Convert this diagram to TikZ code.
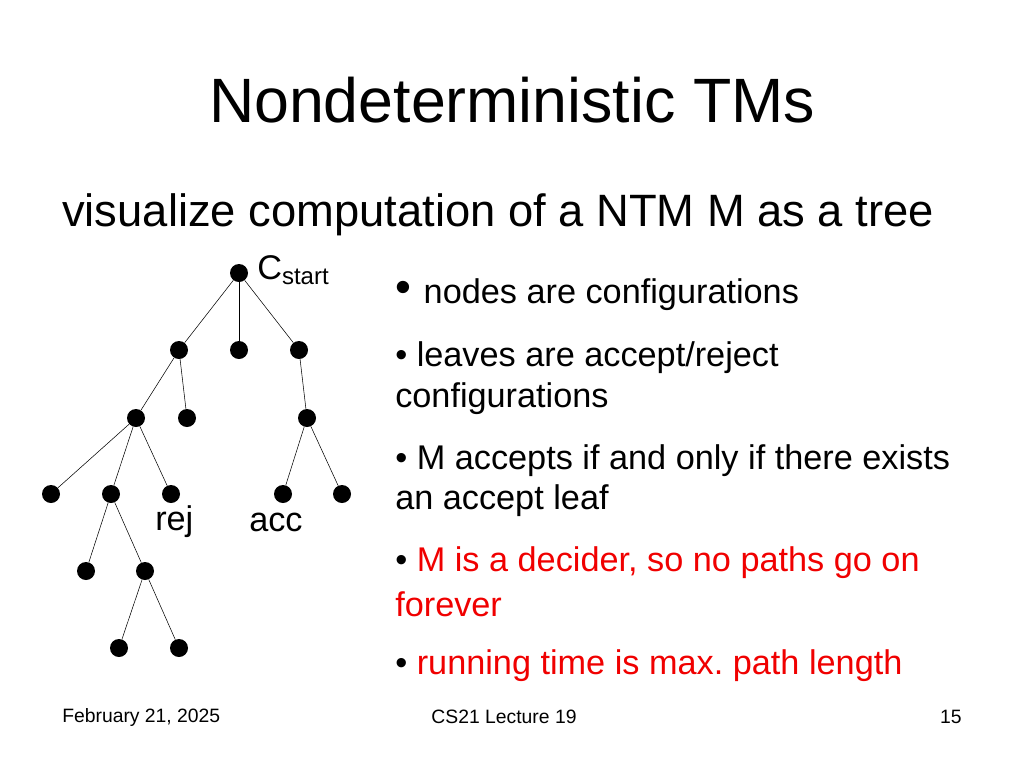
\documentclass[tikz,border=0pt]{standalone}
\usepackage{fontspec}
\setmainfont{Liberation Sans}
\frenchspacing
\definecolor{hot}{RGB}{240,0,0}
\tikzset{
    dot/.style={circle, fill=black, inner sep=0pt, minimum size=13.5pt},
    item/.style={anchor=west, inner sep=0pt, font=\fontsize{25.7}{30}\selectfont},
    foot/.style={inner sep=0pt, font=\fontsize{14.5}{17}\selectfont},
}
\begin{document}
\begin{tikzpicture}[x=0.75pt, y=-0.75pt]
    \useasboundingbox (0,0) rectangle (1024,768);
    % title and heading
    \node (title) at (512,100) {\fontsize{47}{54}\selectfont Nondeterministic TMs};
    \node[anchor=west, inner sep=0pt] (head) at (62,215)
        {\fontsize{34}{40}\selectfont visualize computation of a NTM M as a tree};
    % tree
    \foreach \name/\x/\y in {r/239/273, a/179/350, b/239/350, c/299/350,
        aa/136/418, ab/187/418, ca/307/418,
        aaa/51/494, aab/111/494, aac/171/494, caa/283/494, cab/342/494,
        d1/86/571, d2/145/571, e1/119/648, e2/179/648}
        \node[dot] (\name) at (\x,\y) {};
    \foreach \u/\v in {r/a, r/b, r/c, a/aa, a/ab, c/ca, aa/aaa, aa/aab, aa/aac,
        ca/caa, ca/cab, aab/d1, aab/d2, d2/e1, d2/e2}
        \draw (\u) -- (\v);
    \node[item, anchor=south west] (cstart) at (257,285) {C\textsubscript{start}};
    \node[item] (rej) at (155,522) {rej};
    \node[item] (acc) at (249,522) {acc};
    % bullets
    \node[item] (b1) at (395,295) {\fontsize{34}{34}\selectfont\raisebox{1pt}{\textbullet}\ \fontsize{25.7}{30}\selectfont nodes are configurations};
    \node[item] (b2) at (395,358) {\textbullet\ leaves are accept/reject};
    \node[item] (b2b) at (395,399) {configurations};
    \node[item] (b3) at (395,461) {\textbullet\ M accepts if and only if there exists};
    \node[item] (b3b) at (395,501) {an accept leaf};
    \node[item] (b4) at (395,563) {\textbullet\ \textcolor{hot}{M is a decider, so no paths go on}};
    \node[item, text=hot] (b4b) at (395,604) {forever};
    \node[item] (b5) at (395,666) {\textbullet\ \textcolor{hot}{running time is max. path length}};
    % footer
    \node[foot, anchor=west] (date) at (62,717) {February 21, 2025};
    \node[foot] (course) at (504,717) {CS21 Lecture 19};
    \node[foot, anchor=east] (page) at (962,717) {15};
\end{tikzpicture}
\end{document}
